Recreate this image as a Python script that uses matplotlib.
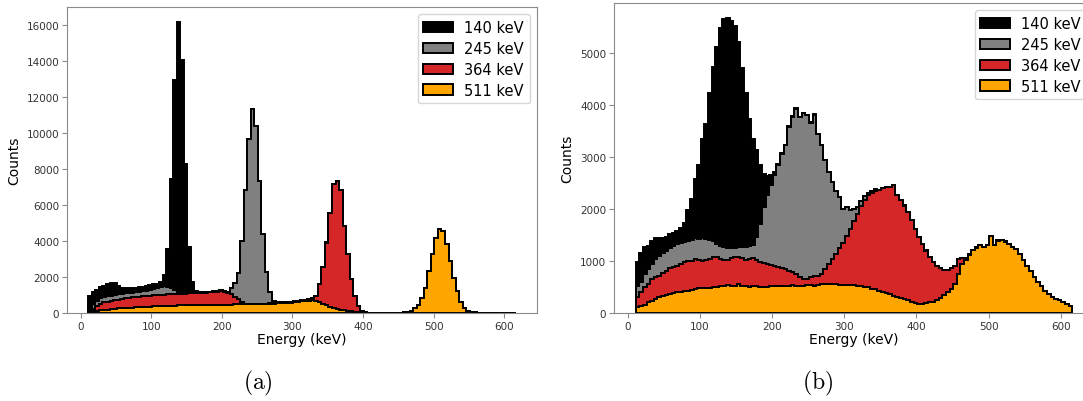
import numpy as np
import matplotlib
matplotlib.use("Agg")
import matplotlib.pyplot as plt
from matplotlib.patches import Patch

plt.rcParams['mathtext.fontset'] = 'cm'
plt.rcParams['font.family'] = ['DejaVu Sans']

# ---------------- data ----------------
bin_edges = np.arange(11, 617, 5)          # 5 keV bins, 11..616 keV
labels = ["140 keV", "245 keV", "364 keV", "511 keV"]
colors = ["#000000", "#808080", "#d62728", "#ffa500"]

# panel (a): counts per bin for each source
a_140 = [660, 680, 610, 610, 610, 640, 680, 650, 480, 340, 275, 280, 280, 250, 240, 250, 260, 280, 270, 240,
         270, 625, 2160, 6055, 11700, 15035, 12920, 7200, 2580, 610, 80, 30,
         10, 10, 8, 8, 6, 6, 5, 5, 5, 5,
         4, 4, 3, 3, 3, 2, 2, 2, 2, 2,
         1, 1, 1, 1, 1, 1, 1, 1, 1, 1,
         0, 0, 0, 0, 0, 0, 0, 0, 0, 0,
         0, 0, 0, 0, 0, 0, 0, 0, 0, 0,
         0, 0, 0, 0, 0, 0, 0, 0, 0, 0,
         0, 0, 0, 0, 0, 0, 0, 0, 0, 0,
         0, 0, 0, 0, 0, 0, 0, 0, 0, 0,
         0, 0, 0, 0, 0, 0, 0, 0, 0]
a_245 = [150, 280, 310, 310, 310, 330, 280, 280, 290, 290, 280, 260, 250, 260, 280, 280, 300, 320, 350, 380,
         420, 455, 390, 325, 200, 85, 40,
         20, 20, 20, 20, 20, 20, 20, 20, 20, 20, 25, 30, 40,
         315, 760, 1460, 3380, 6310, 9160, 10820, 9860, 6810, 3860, 1730, 615, 140, 30,
         20, 20, 15, 15, 10, 10, 10, 10, 10, 10,
         5, 5, 5, 5, 5, 3, 3, 3, 2, 2,
         2, 2, 2, 1, 1, 1, 1, 1, 1, 1,
         1, 1, 1, 1, 1, 0, 0, 0, 0, 0,
         0, 0, 0, 0, 0, 0, 0, 0, 0, 0,
         0, 0, 0, 0, 0, 0, 0, 0, 0, 0,
         0, 0, 0, 0, 0, 0, 0]
a_364 = [90, 130, 250, 350, 420, 440, 470, 480, 490, 510, 540, 550, 570, 580, 580, 590, 600, 610, 610, 625, 630,
         635, 640, 640, 640, 640, 640, 645, 650, 655, 650, 660, 665, 675, 690, 710, 725, 770, 710, 650, 580,
         425, 270, 140, 40,
         30, 25, 25, 20, 20, 20, 20, 20, 20, 25, 25, 30, 30, 35, 40, 50, 60, 70, 120,
         280, 1005, 2028, 3492, 5233, 6860, 7100, 6640, 4675, 3136, 1782, 890, 365, 110, 40, 15, 10,
         5, 5, 3, 3, 2, 2, 2, 1, 1, 1,
         0, 0, 0, 0, 0, 0, 0, 0, 0, 0,
         0, 0, 0, 0, 0, 0, 0, 0, 0, 0,
         0, 0, 0, 0, 0, 0, 0, 0, 0, 0]
a_511 = [60, 90, 120, 150, 170, 190, 210, 230, 250, 260, 270, 290, 300, 310, 320, 330, 340, 350, 370, 375, 380,
         385, 390, 400, 410, 420, 430, 435, 440, 445, 450, 450, 455, 455, 460, 460, 465, 465, 470, 470, 470,
         475, 480, 480, 480, 480, 485, 485, 490, 490, 500, 510, 520, 540, 550, 560, 570, 580, 600, 620, 640,
         660, 690, 720, 680, 600, 500, 420, 340, 280, 230, 190, 160, 130, 100, 70, 40, 20, 10, 5, 5,
         5, 5, 10, 10, 10, 15, 15, 20, 30,
         40, 130, 260, 440, 810, 1400, 2340, 3300, 4190, 4690, 4560, 3820, 2900, 1920, 1240, 630, 260, 130,
         70, 35, 20,
         10, 5, 5, 3, 3, 2, 2, 1, 1, 1]

# panel (b): counts per bin for each source
b_140 = [455, 554, 513, 436, 436, 398, 346, 295, 256, 279, 242, 263, 288, 361, 578, 792, 1124, 1403, 1906, 2215,
         2814, 3334, 3779, 4184, 4381, 4427, 4352, 4263, 3945, 3435, 2954, 2451, 2046, 1685, 1133, 633, 358, 205,
         60, 30, 20, 15, 10, 10, 5, 5, 5, 5,
         4, 4, 3, 3, 3, 2, 2, 2, 2, 2,
         1, 1, 1, 1, 1, 1, 1, 1, 1, 1,
         0, 0, 0, 0, 0, 0, 0, 0, 0, 0,
         0, 0, 0, 0, 0, 0, 0, 0, 0, 0,
         0, 0, 0, 0, 0, 0, 0, 0, 0, 0,
         0, 0, 0, 0, 0, 0, 0, 0, 0, 0,
         0, 0, 0, 0, 0, 0, 0, 0, 0, 0,
         0, 0, 0]
b_245 = [219, 203, 256, 288, 288, 352, 385, 391, 385, 381, 412, 423, 398, 396, 384, 394, 402, 404, 434, 401,
         372, 320, 260, 252, 234, 221, 199, 180, 190, 219, 244, 242, 249,
         424, 713, 1078, 1328, 1526, 1730, 1955, 2199, 2372, 2756, 2968, 3173, 3074, 3176, 3146, 2968, 3103,
         2724, 2468, 2083, 1763, 1475, 1198, 974, 650, 552, 348, 240, 132,
         100, 80, 40, 50, 30, 15, 10, 10, 5, 5,
         5, 5, 4, 4, 3, 3, 3, 2, 2, 2,
         2, 2, 2, 1, 1, 1, 1, 1, 1, 1,
         1, 1, 1, 1, 1, 0, 0, 0, 0, 0,
         0, 0, 0, 0, 0, 0, 0, 0, 0, 0,
         0, 0, 0, 0, 0, 0, 0, 0, 0]
b_364 = [192, 256, 340, 353, 417, 417, 417, 430, 468, 494, 500, 500, 532, 544, 576, 557, 576, 552, 532, 532,
         551, 576, 564, 525, 500, 481, 538, 544, 512, 538, 513, 544, 538, 513, 493, 468, 448, 410, 397, 352,
         346, 320, 288, 257, 237,
         160, 144, 114, 146, 179, 178, 200, 296, 384, 480, 585, 710, 810, 940, 1080, 1230, 1380, 1540, 1660,
         1766, 1830, 1880, 1922, 1987, 2037, 2060, 2129, 1960, 1880, 1800, 1696, 1566, 1425, 1280, 1157, 1009,
         865, 754, 657, 569, 493, 433, 389, 337, 288, 101, 41, 20,
         10, 10, 8, 8, 6, 6, 5, 5, 4, 4,
         3, 3, 3, 2, 2, 2, 2, 1, 1, 1,
         1, 1, 1, 1, 0, 0, 0, 0]
b_511 = [109, 141, 154, 205, 237, 269, 301, 333, 346, 365, 378, 397, 410, 430, 430, 449, 462, 474, 474, 487,
         487, 494, 506, 513, 526,
         538, 513, 526, 558, 513, 513, 494, 513, 513, 494, 494, 494, 513, 513, 526, 513, 526, 526, 538, 513,
         526, 510, 540, 540, 526, 540, 550, 550, 558, 558, 550, 540,
         540, 540, 540, 530, 520, 510, 500, 490, 470, 460, 430, 410, 380, 360, 320, 300, 280, 260, 240, 210,
         190, 175, 170,
         190, 205, 220, 240, 290, 340, 400, 470, 560, 750, 950, 1010, 1110, 1200, 1250, 1300, 1265, 1300, 1480,
         1300, 1390, 1395, 1370, 1330, 1265, 1230, 1140, 1010, 900, 800, 690, 590, 515, 430, 365, 300, 270,
         240, 205, 170, 140]

nbins = len(bin_edges) - 1
for name, arr in [("a_140", a_140), ("a_245", a_245), ("a_364", a_364), ("a_511", a_511),
                  ("b_140", b_140), ("b_245", b_245), ("b_364", b_364), ("b_511", b_511)]:
    assert len(arr) == nbins, (name, len(arr), nbins)

# ---------------- plot ----------------
W, H = 1083, 402
fig = plt.figure(figsize=(W / 100, H / 100), dpi=100)
ax_a = fig.add_axes([67 / W, (H - 314) / H, 470 / W, 306 / H])
ax_b = fig.add_axes([614 / W, (H - 314) / H, 480 / W, 310 / H])

centers = 0.5 * (bin_edges[:-1] + bin_edges[1:])
spine_col = "#8a8a8a"


def draw(ax, series):
    # stack from bottom: 511, 364, 245, 140
    order = [3, 2, 1, 0]
    ax.hist([centers] * 4, bins=bin_edges,
            weights=[series[k] for k in order],
            stacked=True, histtype="stepfilled",
            color=[colors[k] for k in order],
            edgecolor="black", linewidth=1.4)
    ax.set_xlabel("Energy (keV)", fontsize=10, labelpad=1)
    ax.set_ylabel("Counts", fontsize=10)
    ax.set_xticks([0, 100, 200, 300, 400, 500, 600])
    ax.tick_params(labelsize=7.5, colors="#333333", length=3.5, width=0.8,
                   color=spine_col, pad=2)
    for s in ax.spines.values():
        s.set_color(spine_col)
        s.set_linewidth(0.8)
    handles = [Patch(facecolor=colors[k], edgecolor="black", linewidth=1.4, label=labels[k])
               for k in range(4)]
    ax.legend(handles=handles, loc="upper right", fontsize=10.5, labelspacing=0.4)


draw(ax_a, [a_140, a_245, a_364, a_511])
draw(ax_b, [b_140, b_245, b_364, b_511])

fig.text(258 / W, 1 - 383 / H, r"$\mathrm{(a)}$", ha="center", va="center", fontsize=17)
fig.text(818 / W, 1 - 383 / H, r"$\mathrm{(b)}$", ha="center", va="center", fontsize=17)

fig.savefig("out.png", dpi=100)
